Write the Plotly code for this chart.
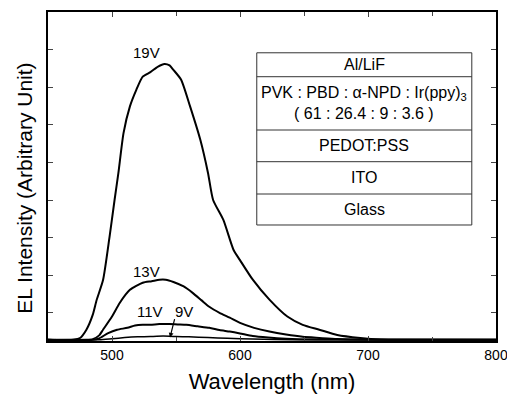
import plotly.graph_objects as go

# ---- data ----
wl_19 = [450, 470, 475, 480, 485, 488, 493, 498, 502, 505, 509, 514, 519, 524, 530, 536, 541, 545, 548, 554, 561, 569, 575, 579, 587, 595, 600, 610, 623, 637, 649, 662, 676, 694, 710, 740, 800]
int_19 = [0.28, 0.29, 0.33, 0.55, 0.95, 1.34, 1.87, 3.0, 4.0, 4.72, 5.78, 6.49, 6.93, 7.28, 7.40, 7.55, 7.62, 7.58, 7.46, 7.20, 6.49, 5.60, 4.72, 4.0, 3.47, 2.67, 2.40, 1.88, 1.35, 0.90, 0.68, 0.55, 0.41, 0.33, 0.29, 0.28, 0.28]

wl_13 = [450, 480, 485, 490, 493, 500, 506, 514, 524, 531, 537, 542, 548, 556, 563, 570, 576, 584, 592, 600, 611, 623, 636, 649, 662, 676, 700, 800]
int_13 = [0.28, 0.28, 0.30, 0.40, 0.55, 0.90, 1.26, 1.61, 1.80, 1.84, 1.88, 1.88, 1.82, 1.70, 1.53, 1.33, 1.16, 1.00, 0.87, 0.73, 0.60, 0.50, 0.42, 0.36, 0.33, 0.30, 0.28, 0.28]

wl_11 = [450, 485, 490, 497, 504, 512, 518, 524, 530, 537, 545, 552, 558, 567, 576, 584, 592, 600, 610, 622, 636, 660, 800]
int_11 = [0.28, 0.28, 0.32, 0.46, 0.55, 0.60, 0.66, 0.68, 0.68, 0.70, 0.70, 0.69, 0.68, 0.64, 0.60, 0.54, 0.50, 0.45, 0.38, 0.34, 0.31, 0.29, 0.28]

wl_9 = [450, 490, 500, 510, 520, 530, 540, 550, 560, 575, 590, 610, 640, 800]
int_9 = [0.28, 0.28, 0.31, 0.34, 0.36, 0.37, 0.38, 0.37, 0.36, 0.34, 0.32, 0.30, 0.28, 0.28]

series_labels = ["19V", "13V", "11V", "9V"]
label_wl = [527, 527, 530, 556]
label_int = [7.91, 2.09, 1.03, 1.03]

layers = ["Al/LiF",
          "PVK : PBD : \u03b1-NPD : Ir(ppy)<sub>3</sub><br>( 61 : 26.4 : 9 : 3.6 )",
          "PEDOT:PSS", "ITO", "Glass"]

x_ticks = [500, 600, 700, 800]
y_ticks = [1, 2, 3, 4, 5, 6, 7, 8]

FONT = "Arial, Liberation Sans, sans-serif"

fig = go.Figure()
for wl, it, w in [(wl_19, int_19, 2), (wl_13, int_13, 2), (wl_11, int_11, 2), (wl_9, int_9, 1.5)]:
    fig.add_trace(go.Scatter(x=wl, y=it, mode="lines",
                             line=dict(color="black", width=w, shape="spline", smoothing=0.6),
                             showlegend=False, hoverinfo="skip"))

annotations = []
for t, xv, yv in zip(series_labels, label_wl, label_int):
    annotations.append(dict(x=xv, y=yv, xref="x", yref="y", text=t, showarrow=False,
                            xanchor="center", yanchor="middle",
                            font=dict(family=FONT, size=15, color="black")))
# arrow to 9V curve
annotations.append(dict(x=545.3, y=0.34, xref="x", yref="y", text="", showarrow=True,
                        ax=5, ay=-20, arrowhead=2, arrowsize=0.8, arrowwidth=1.2, arrowcolor="black"))

# layer stack table (paper coords; plot area spans px 48..496 x 12..341)
tx0, tx1 = 0.466, 0.946
bounds = [0.876, 0.8033, 0.6413, 0.545, 0.4468, 0.3526]
shapes = [dict(type="rect", xref="paper", yref="paper", x0=tx0, x1=tx1, y0=bounds[-1], y1=bounds[0],
               line=dict(color="#333", width=1), fillcolor="white", layer="above")]
for b in bounds[1:-1]:
    shapes.append(dict(type="line", xref="paper", yref="paper", x0=tx0, x1=tx1, y0=b, y1=b,
                       line=dict(color="#333", width=1)))
for i, txt in enumerate(layers):
    annotations.append(dict(x=(tx0 + tx1) / 2, y=(bounds[i] + bounds[i + 1]) / 2, xref="paper", yref="paper",
                            text=txt, showarrow=False, align="center", xanchor="center", yanchor="middle",
                            font=dict(family=FONT, size=16, color="black")))

# y axis title
annotations.append(dict(x=-0.0513, y=0.463, xref="paper", yref="paper", text="EL Intensity (Arbitrary Unit)",
                        textangle=-90, showarrow=False, xanchor="center", yanchor="middle",
                        font=dict(family=FONT, size=21, color="black")))

fig.update_layout(
    width=507, height=395,
    margin=dict(l=48, r=11, t=12, b=54, autoexpand=False),
    paper_bgcolor="white", plot_bgcolor="white",
    shapes=shapes, annotations=annotations,
    font=dict(family=FONT, color="black"),
    xaxis=dict(range=[450, 800], tickvals=x_ticks, ticks="inside", ticklen=5, tickwidth=1,
               minor=dict(dtick=50, tick0=450, ticks="inside", ticklen=4, tickwidth=1),
               showline=True, linecolor="black", linewidth=1.5, mirror="ticks",
               showgrid=False, zeroline=False, tickfont=dict(size=14),
               automargin=False, ticklabeloverflow="allow",
               title=dict(text="Wavelength (nm)", font=dict(size=22), standoff=12)),
    yaxis=dict(range=[0.25, 9], tickvals=y_ticks, ticks="inside", ticklen=5, tickwidth=1,
               showticklabels=False, showline=True, linecolor="black", linewidth=1.5, mirror="ticks",
               showgrid=False, zeroline=False, automargin=False),
)

# remove the browser's default body margin so the figure sits at the page origin
fig.write_html("out.html", config={"displayModeBar": False},
               post_script="document.body.style.margin='0';document.body.style.overflow='hidden';")
